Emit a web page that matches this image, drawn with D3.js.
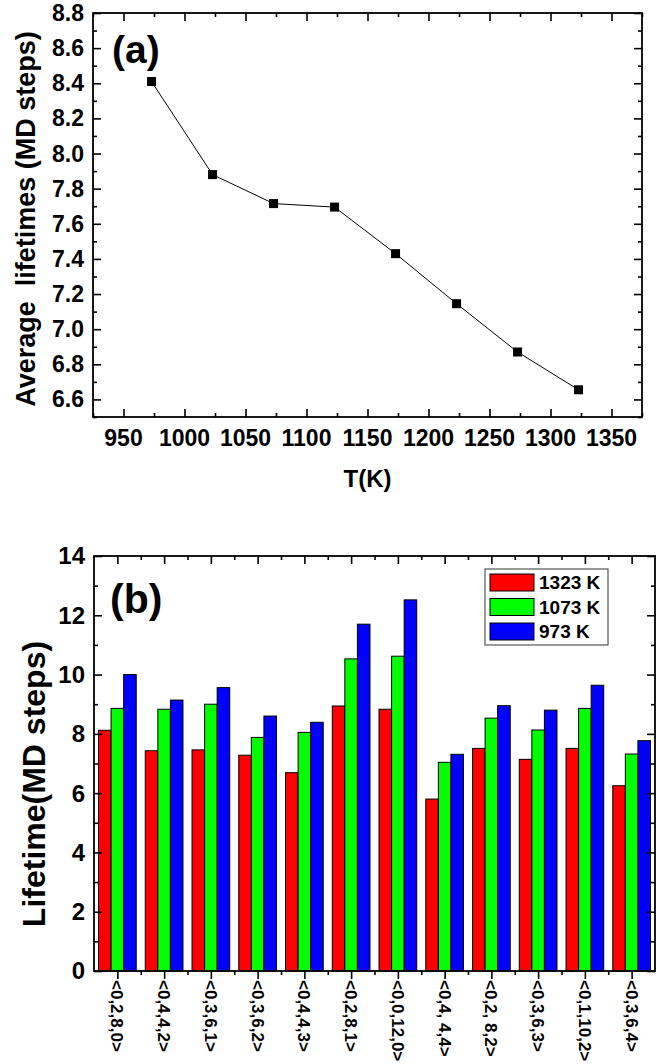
<!DOCTYPE html>
<html>
<head>
<meta charset="utf-8">
<script src="https://cdn.jsdelivr.net/npm/d3@7"></script>
<style>
  body { margin: 0; background: #fff; }
  text { font-family: "Liberation Sans", Arial, sans-serif; font-weight: bold; fill: #000; }
</style>
</head>
<body>
<svg id="chart" width="668" height="1064"></svg>
<script>
// (a) average lifetime vs temperature
var tempsK = [973, 1023, 1073, 1123, 1173, 1223, 1273, 1323];
var avgLifetime = [8.41, 7.88, 7.715, 7.695, 7.43, 7.145, 6.87, 6.655];
var tempTicks = [950, 1000, 1050, 1100, 1150, 1200, 1250, 1300, 1350];
var avgTicks = [6.6, 6.8, 7.0, 7.2, 7.4, 7.6, 7.8, 8.0, 8.2, 8.4, 8.6, 8.8];

// (b) lifetime per cluster type
var clusters = ["<0,2,8,0>", "<0,4,4,2>", "<0,3,6,1>", "<0,3,6,2>", "<0,4,4,3>", "<0,2,8,1>",
                "<0,0,12,0>", "<0,4, 4,4>", "<0,2, 8,2>", "<0,3,6,3>", "<0,1,10,2>", "<0,3,6,4>"];
var seriesNames = ["1323 K", "1073 K", "973 K"];
var seriesColors = ["#ff0000", "#00ff00", "#0000ff"];
var life1323 = [8.12, 7.43, 7.46, 7.28, 6.69, 8.94, 8.83, 5.80, 7.51, 7.14, 7.51, 6.25];
var life1073 = [8.86, 8.83, 9.00, 7.88, 8.05, 10.53, 10.62, 7.04, 8.53, 8.13, 8.86, 7.32];
var life973 = [10.00, 9.14, 9.56, 8.60, 8.39, 11.70, 12.52, 7.31, 8.95, 8.80, 9.64, 7.77];
var lifeTicks = [0, 2, 4, 6, 8, 10, 12, 14];

var svg = d3.select("#chart");

// ---------- panel (a) ----------
var a = {left: 93, right: 642, top: 13, bottom: 417};
var xa = d3.scaleLinear().domain([925, 1375]).range([a.left, a.right]);
var ya = d3.scaleLinear().domain([6.5, 8.8]).range([a.bottom, a.top]);

var ga = svg.append("g");

// ticks inside on all four sides
var xaMinor = d3.range(925, 1376, 25).filter(function(v){ return tempTicks.indexOf(v) < 0; });
var yaMinor = d3.range(6.5, 8.85, 0.1).map(function(v){ return +v.toFixed(1); })
    .filter(function(v){ return avgTicks.indexOf(v) < 0; });

ga.append("g").attr("transform", "translate(0," + a.bottom + ")")
    .call(d3.axisBottom(xa).tickValues(tempTicks).tickSizeInner(-8).tickSizeOuter(0).tickFormat(""));
ga.append("g").attr("transform", "translate(0," + a.bottom + ")")
    .call(d3.axisBottom(xa).tickValues(xaMinor).tickSizeInner(-4).tickSizeOuter(0).tickFormat(""));
ga.append("g").attr("transform", "translate(0," + a.top + ")")
    .call(d3.axisTop(xa).tickValues(tempTicks).tickSizeInner(-8).tickSizeOuter(0).tickFormat(""));
ga.append("g").attr("transform", "translate(0," + a.top + ")")
    .call(d3.axisTop(xa).tickValues(xaMinor).tickSizeInner(-4).tickSizeOuter(0).tickFormat(""));
ga.append("g").attr("transform", "translate(" + a.left + ",0)")
    .call(d3.axisLeft(ya).tickValues(avgTicks).tickSizeInner(-8).tickSizeOuter(0).tickFormat(""));
ga.append("g").attr("transform", "translate(" + a.left + ",0)")
    .call(d3.axisLeft(ya).tickValues(yaMinor).tickSizeInner(-4).tickSizeOuter(0).tickFormat(""));
ga.append("g").attr("transform", "translate(" + a.right + ",0)")
    .call(d3.axisRight(ya).tickValues(avgTicks).tickSizeInner(-8).tickSizeOuter(0).tickFormat(""));
ga.append("g").attr("transform", "translate(" + a.right + ",0)")
    .call(d3.axisRight(ya).tickValues(yaMinor).tickSizeInner(-4).tickSizeOuter(0).tickFormat(""));

ga.selectAll(".tick line").attr("stroke", "#000").attr("stroke-width", 1.6);
ga.selectAll(".domain").remove();

ga.append("rect")
    .attr("x", a.left).attr("y", a.top)
    .attr("width", a.right - a.left).attr("height", a.bottom - a.top)
    .attr("fill", "none").attr("stroke", "#000").attr("stroke-width", 1.8);

// tick labels
ga.selectAll(".xlab").data(tempTicks).enter().append("text")
    .attr("x", function(d){ return xa(d); })
    .attr("y", 446)
    .attr("text-anchor", "middle")
    .style("font-size", "23px")
    .text(function(d){ return d; });
ga.selectAll(".ylab").data(avgTicks).enter().append("text")
    .attr("x", 84)
    .attr("y", function(d){ return ya(d); })
    .attr("dy", "0.35em")
    .attr("text-anchor", "end")
    .style("font-size", "23px")
    .text(function(d){ return d.toFixed(1); });

// line + markers
var pts = tempsK.map(function(t, i){ return {t: t, v: avgLifetime[i]}; });
ga.append("path")
    .datum(pts)
    .attr("fill", "none")
    .attr("stroke", "#000")
    .attr("stroke-width", 1)
    .attr("d", d3.line().x(function(d){ return xa(d.t); }).y(function(d){ return ya(d.v); }));
ga.selectAll(".pt").data(pts).enter().append("rect")
    .attr("x", function(d){ return xa(d.t) - 4.5; })
    .attr("y", function(d){ return ya(d.v) - 4.5; })
    .attr("width", 9).attr("height", 9)
    .attr("fill", "#000");

ga.append("text").attr("x", 112).attr("y", 63).style("font-size", "39px").text("(a)");
ga.append("text").attr("x", xa(1150)).attr("y", 487).attr("text-anchor", "middle")
    .style("font-size", "24px").text("T(K)");
ga.append("text")
    .attr("transform", "translate(35,219) rotate(-90)")
    .attr("text-anchor", "middle")
    .style("font-size", "27px")
    .style("white-space", "pre")
    .attr("xml:space", "preserve")
    .text("Average  lifetimes (MD steps)");

// ---------- panel (b) ----------
var b = {left: 94, right: 655, top: 556, bottom: 971};
var x0 = d3.scaleBand().domain(clusters).range([b.left, b.right]).padding(0);
var x1 = d3.scaleBand().domain(seriesNames).range([0, x0.bandwidth()]).paddingInner(0).paddingOuter(0.36);
var yb = d3.scaleLinear().domain([0, 14]).range([b.bottom, b.top]);

var gb = svg.append("g");

var rows = clusters.map(function(c, i){
    return {c: c, vals: [life1323[i], life1073[i], life973[i]]};
});

var grp = gb.selectAll(".grp").data(rows).enter().append("g")
    .attr("transform", function(d){ return "translate(" + x0(d.c) + ",0)"; });
grp.selectAll("rect").data(function(d){
        return d.vals.map(function(v, k){ return {s: seriesNames[k], v: v, k: k}; });
    }).enter().append("rect")
    .attr("x", function(d){ return x1(d.s); })
    .attr("y", function(d){ return yb(d.v); })
    .attr("width", x1.bandwidth())
    .attr("height", function(d){ return yb(0) - yb(d.v); })
    .attr("fill", function(d){ return seriesColors[d.k]; })
    .attr("stroke", "#000")
    .attr("stroke-width", 1);

var centers = clusters.map(function(c){ return x0(c) + x0.bandwidth() / 2; });
var bounds = d3.range(1, clusters.length).map(function(i){ return b.left + i * x0.bandwidth(); });
var ybMinor = [1, 3, 5, 7, 9, 11, 13];
var xc = d3.scaleLinear().domain([b.left, b.right]).range([b.left, b.right]);

gb.append("g").attr("transform", "translate(0," + b.bottom + ")")
    .call(d3.axisBottom(xc).tickValues(centers).tickSizeInner(8).tickSizeOuter(0).tickFormat(""));
gb.append("g").attr("transform", "translate(0," + b.bottom + ")")
    .call(d3.axisBottom(xc).tickValues(bounds).tickSizeInner(4).tickSizeOuter(0).tickFormat(""));
gb.append("g").attr("transform", "translate(0," + b.top + ")")
    .call(d3.axisTop(xc).tickValues(centers).tickSizeInner(-8).tickSizeOuter(0).tickFormat(""));
gb.append("g").attr("transform", "translate(0," + b.top + ")")
    .call(d3.axisTop(xc).tickValues(bounds).tickSizeInner(-4).tickSizeOuter(0).tickFormat(""));
gb.append("g").attr("transform", "translate(" + b.left + ",0)")
    .call(d3.axisLeft(yb).tickValues(lifeTicks).tickSizeInner(-8).tickSizeOuter(0).tickFormat(""));
gb.append("g").attr("transform", "translate(" + b.left + ",0)")
    .call(d3.axisLeft(yb).tickValues(ybMinor).tickSizeInner(-4).tickSizeOuter(0).tickFormat(""));
gb.append("g").attr("transform", "translate(" + b.right + ",0)")
    .call(d3.axisRight(yb).tickValues(lifeTicks).tickSizeInner(-8).tickSizeOuter(0).tickFormat(""));
gb.append("g").attr("transform", "translate(" + b.right + ",0)")
    .call(d3.axisRight(yb).tickValues(ybMinor).tickSizeInner(-4).tickSizeOuter(0).tickFormat(""));

gb.selectAll(".tick line").attr("stroke", "#000").attr("stroke-width", 1.6);
gb.selectAll(".domain").remove();

gb.append("rect")
    .attr("x", b.left).attr("y", b.top)
    .attr("width", b.right - b.left).attr("height", b.bottom - b.top)
    .attr("fill", "none").attr("stroke", "#000").attr("stroke-width", 1.8);

gb.selectAll(".ylab").data(lifeTicks).enter().append("text")
    .attr("x", 85)
    .attr("y", function(d){ return yb(d); })
    .attr("dy", "0.35em")
    .attr("text-anchor", "end")
    .style("font-size", "24px")
    .text(function(d){ return d; });

// rotated category labels, sized so the longest one still fits above the page edge
gb.selectAll(".xlab").data(clusters).enter().append("text")
    .attr("transform", function(d){ return "translate(" + (x0(d) + x0.bandwidth() / 2) + ",980) rotate(90)"; })
    .attr("dy", "0.35em")
    .attr("text-anchor", "start")
    .style("font-size", "17px")
    .style("white-space", "pre")
    .text(function(d){ return d; });

gb.append("text").attr("x", 110).attr("y", 613).style("font-size", "41px").text("(b)");
gb.append("text")
    .attr("transform", "translate(45,784) rotate(-90)")
    .attr("text-anchor", "middle")
    .style("font-size", "32px")
    .text("Lifetime(MD steps)");

// legend
var lg = gb.append("g").attr("transform", "translate(485,569)");
lg.append("rect").attr("width", 123).attr("height", 76)
    .attr("fill", "#fff").attr("stroke", "#555").attr("stroke-width", 1.2);
seriesNames.forEach(function(s, k){
    lg.append("rect")
        .attr("x", 5).attr("y", 5 + k * 24.5)
        .attr("width", 44).attr("height", 17)
        .attr("fill", seriesColors[k]).attr("stroke", "#000").attr("stroke-width", 1);
    lg.append("text")
        .attr("x", 54).attr("y", 13.5 + k * 24.5)
        .attr("dy", "0.35em")
        .style("font-size", "19px")
        .text(s);
});
</script>
</body>
</html>
